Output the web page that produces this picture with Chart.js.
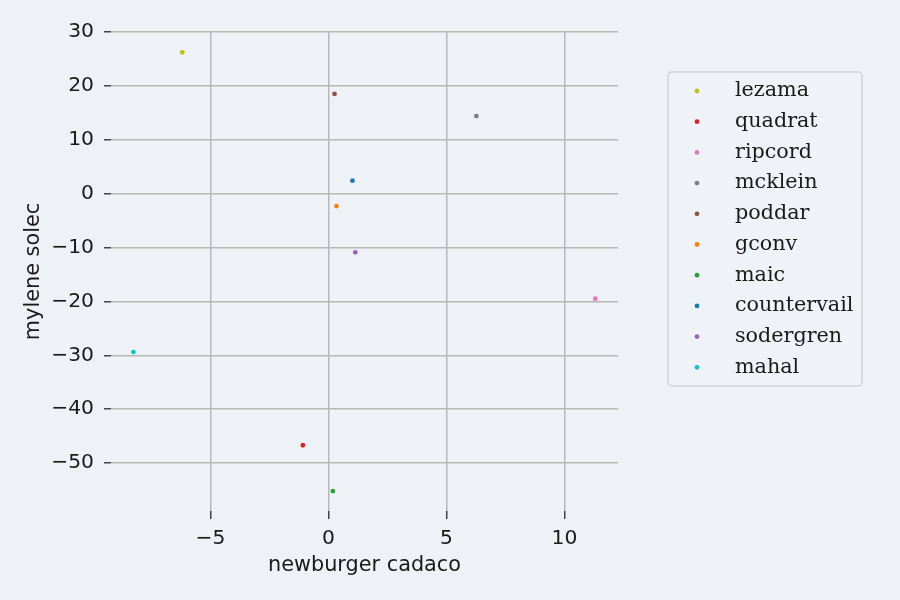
<!DOCTYPE html>
<html>
<head>
<meta charset="utf-8">
<script src="https://cdn.jsdelivr.net/npm/chart.js@4.4.1/dist/chart.umd.min.js"></script>
<style>
  html, body { margin: 0; padding: 0; background: #eef1f5; }
  #wrap { width: 900px; height: 600px; }
</style>
</head>
<body>
<div id="wrap"><canvas id="scatterChart" width="900" height="600"></canvas></div>
<script>
const names = ['lezama', 'quadrat', 'ripcord', 'mcklein', 'poddar', 'gconv', 'maic', 'countervail', 'sodergren', 'mahal'];
const xValues = [-6.19, -1.08, 11.31, 6.27, 0.26, 0.34, 0.19, 1.02, 1.14, -8.26];
const yValues = [26.2, -46.7, -19.5, 14.4, 18.5, -2.3, -55.2, 2.4, -10.9, -29.4];
const colors = ['#bcbd22', '#d62728', '#e377c2', '#7f7f7f', '#8c564b', '#ff7f0e', '#2ca02c', '#1f77b4', '#9467bd', '#17becf'];
const xTicks = [-5, 0, 5, 10];
const yTicks = [-50, -40, -30, -20, -10, 0, 10, 20, 30];

const bg = '#eef1f5';
const gridColor = '#b8b8b8';

const datasets = names.map((name, i) => ({
  label: name,
  data: [{ x: xValues[i], y: yValues[i] }],
  backgroundColor: colors[i],
  borderColor: colors[i],
  pointRadius: 2.4,
  pointBorderWidth: 0
}));

// background + boxed legend drawn by hand
const bgPlugin = {
  id: 'bgFill',
  beforeDraw(chart) {
    const c = chart.ctx;
    c.save();
    c.fillStyle = bg;
    c.fillRect(0, 0, chart.width, chart.height);
    c.restore();
  }
};

const boxLegend = {
  id: 'boxLegend',
  afterDraw(chart) {
    const c = chart.ctx;
    const x0 = 668, y0 = 72, w = 194, h = 314, r = 4;
    c.save();
    c.beginPath();
    c.roundRect(x0, y0, w, h, r);
    c.fillStyle = '#eff2f6';
    c.fill();
    c.lineWidth = 1.5;
    c.strokeStyle = '#cfd2d6';
    c.stroke();
    c.font = '20.7px "DejaVu Serif"';
    c.textBaseline = 'middle';
    chart.data.datasets.forEach((ds, i) => {
      const yy = 91 + i * 30.7;
      c.beginPath();
      c.arc(697, yy, 2.4, 0, Math.PI * 2);
      c.fillStyle = ds.backgroundColor;
      c.fill();
      c.fillStyle = '#1a1a1a';
      c.fillText(ds.label, 735, yy);
    });
    c.restore();
  }
};

const minusFmt = v => String(v).replace('-', '\u2212');

new Chart(document.getElementById('scatterChart').getContext('2d'), {
  type: 'scatter',
  data: { datasets: datasets },
  options: {
    responsive: false,
    animation: false,
    layout: { padding: { left: 0, right: 282, top: 32, bottom: 0 } },
    plugins: { legend: { display: false }, tooltip: { enabled: false } },
    scales: {
      x: {
        type: 'linear',
        min: -9.21,
        max: 12.27,
        afterBuildTicks: s => { s.ticks = xTicks.map(v => ({ value: v })); },
        afterFit: s => { s.height = 89; },
        border: { display: false },
        grid: { color: gridColor, lineWidth: 1.5, tickLength: 8, tickColor: '#444' },
        ticks: {
          color: '#1a1a1a',
          font: { family: 'DejaVu Sans', size: 20.3 },
          padding: 8,
          maxRotation: 0,
          callback: minusFmt
        },
        title: {
          display: true,
          text: 'newburger cadaco',
          color: '#1a1a1a',
          font: { family: 'DejaVu Sans', size: 20.8 },
          padding: { top: 0, bottom: 22 }
        }
      },
      y: {
        type: 'linear',
        min: -58.9,
        max: 30,
        afterBuildTicks: s => { s.ticks = yTicks.map(v => ({ value: v })); },
        afterFit: s => { s.width = 111; },
        border: { display: false },
        grid: { color: gridColor, lineWidth: 1.5, tickLength: 7, tickColor: '#444' },
        ticks: {
          color: '#1a1a1a',
          font: { family: 'DejaVu Sans', size: 20.3 },
          padding: 10,
          callback: minusFmt
        },
        title: {
          display: true,
          text: 'mylene solec',
          color: '#1a1a1a',
          font: { family: 'DejaVu Sans', size: 20.8 },
          padding: { top: 21, bottom: 0 }
        }
      }
    }
  },
  plugins: [bgPlugin, boxLegend]
});
</script>
</body>
</html>
